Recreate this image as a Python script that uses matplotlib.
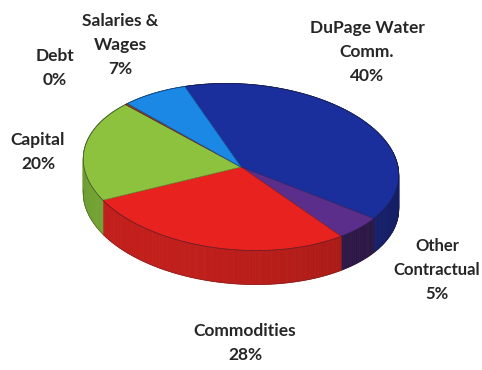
import numpy as np
import matplotlib
matplotlib.use("Agg")
import matplotlib.pyplot as plt
from matplotlib.patches import Polygon
from matplotlib.collections import PolyCollection
from matplotlib.colors import to_rgb

# data, clockwise from the top
labels = ["DuPage Water\nComm.", "Other\nContractual", "Commodities", "Capital", "Debt", "Salaries &\nWages"]
values = [40, 5, 28, 20, 0.3, 7]
top_colors = ["#1b2f9c", "#5b2e8c", "#e8231f", "#8dc23f", "#8a3b2b", "#1a88e4"]
side_colors = ["#1a2780", "#341b52", "#c21f1b", "#74a535", "#6e2e22", "#166fbc"]
label_pos = [(367, 52), (437, 270), (245, 343), (38, 152), (55, 68), (120, 45)]
label_size = [12.5, 12, 12.5, 12.5, 12.5, 12.5]

# pie geometry in pixel space
cx, cy = 241, 167
a, b = 158, 83
phi = np.radians(-4)
depth = 34
start = 113


def proj(t, r=1.0, z=0.0):
    x0 = a * r * np.cos(t)
    y0 = b * r * np.sin(t)
    xr = x0 * np.cos(phi) - y0 * np.sin(phi)
    yr = x0 * np.sin(phi) + y0 * np.cos(phi)
    return cx + xr, cy - yr + depth * z


def shade(c, f):
    return tuple(min(1, v * f) for v in to_rgb(c))


fig = plt.figure(figsize=(4.82, 3.70), dpi=100)
ax = fig.add_axes([0, 0, 1, 1])
ax.set_xlim(0, 482)
ax.set_ylim(370, 0)
ax.axis("off")

fracs = np.array(values) / sum(values)
edges = start - 360 * np.concatenate([[0], np.cumsum(fracs)])

# side of the cylinder, drawn in thin strips
polys, cols = [], []
for i in range(len(values)):
    t0, t1 = edges[i], edges[i + 1]
    n = max(2, int(abs(t0 - t1)))
    ts = np.linspace(t0, t1, n + 1)
    for j in range(n):
        ta, tb = np.radians(ts[j]), np.radians(ts[j + 1])
        xa, ya = proj(ta)
        xb, yb = proj(tb)
        xa2, ya2 = proj(ta, z=1)
        xb2, yb2 = proj(tb, z=1)
        polys.append([(xa, ya), (xb, yb), (xb2, yb2), (xa2, ya2)])
        tm = np.degrees((ta + tb) / 2)
        f = 0.86 + 0.14 * np.cos(np.radians(tm - 230))
        cols.append(shade(side_colors[i], f))
pc = PolyCollection(polys, facecolors=cols, edgecolors=cols, linewidths=0.6)
ax.add_collection(pc)

# bottom outline of side
tt = np.radians(np.linspace(180, 365, 200))
bx, by = proj(tt, z=1)
ax.plot(bx, by, color="#3a1a1a", lw=0.4, alpha=0.5)

# top face
for i in range(len(values)):
    ts = np.radians(np.linspace(edges[i], edges[i + 1], 80))
    xs, ys = proj(ts)
    pts = [(cx, cy)] + list(zip(xs, ys))
    ax.add_patch(Polygon(pts, closed=True, facecolor=top_colors[i],
                         edgecolor=shade(top_colors[i], 0.7), lw=0.5))

tt = np.radians(np.linspace(0, 360, 400))
ox, oy = proj(tt)
ax.plot(ox, oy, color="#20203a", lw=0.5, alpha=0.5)

# labels
for lab, v, (x, y), fs in zip(labels, fracs, label_pos, label_size):
    ax.text(x, y, f"{lab}\n{round(v * 100):.0f}%", ha="center", va="center",
            fontsize=fs, fontweight="bold", family=["Lato", "DejaVu Sans"],
            color="#262626", linespacing=1.65)

fig.savefig("out.png", dpi=100)
